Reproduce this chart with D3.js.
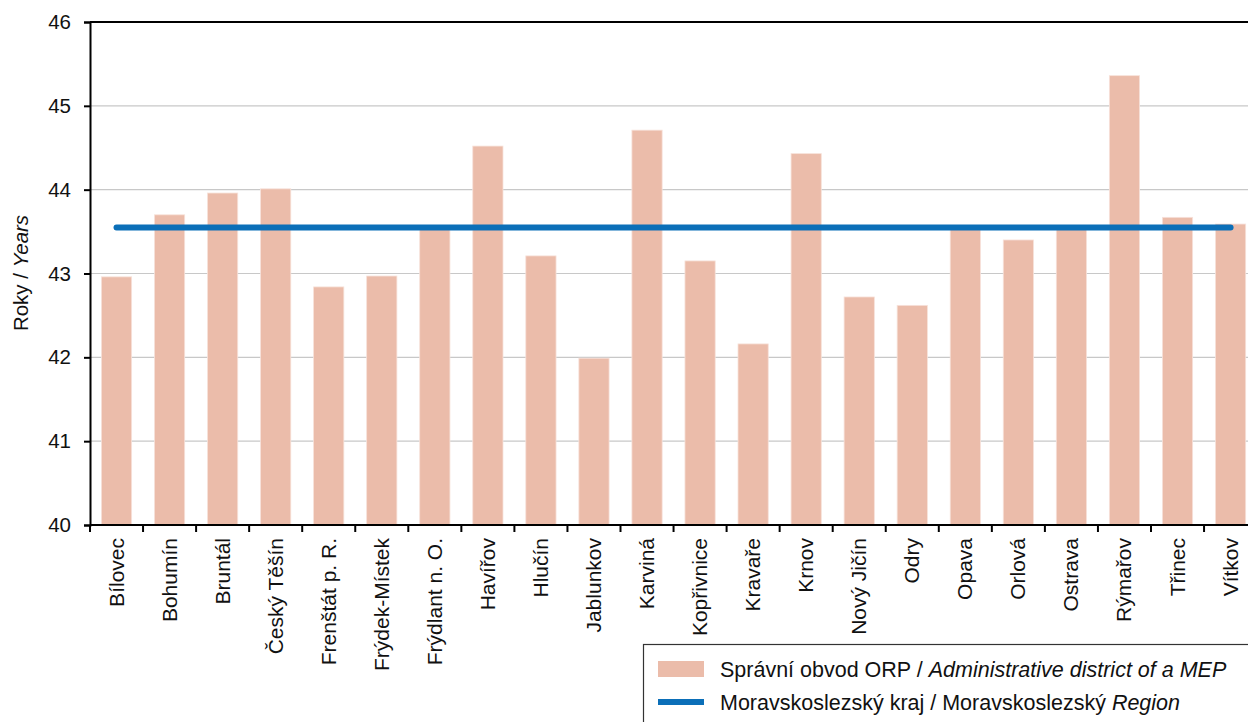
<!DOCTYPE html>
<html>
<head>
<meta charset="utf-8">
<script src="https://cdn.jsdelivr.net/npm/d3@7"></script>
<style>
  body { margin: 0; background: #fff; }
  svg { display: block; font-family: "Liberation Sans", Arial, sans-serif; }
</style>
</head>
<body>
<svg id="chart" width="1248" height="722"></svg>
<script>
// districts (ORP) and mean age
const districts = ['Bílovec', 'Bohumín', 'Bruntál', 'Český Těšín', 'Frenštát p. R.', 'Frýdek-Místek',
    'Frýdlant n. O.', 'Havířov', 'Hlučín', 'Jablunkov', 'Karviná', 'Kopřivnice', 'Kravaře', 'Krnov',
    'Nový Jičín', 'Odry', 'Opava', 'Orlová', 'Ostrava', 'Rýmařov', 'Třinec', 'Vítkov'];
const ages = [42.96, 43.70, 43.96, 44.01, 42.84, 42.97, 43.53, 44.52, 43.21, 41.99, 44.71, 43.15,
    42.16, 44.43, 42.72, 42.62, 43.55, 43.40, 43.55, 45.36, 43.67, 43.59];
const regionAvg = 43.55;
const yTicks = [40, 41, 42, 43, 44, 45, 46];
const legendLabels = ['Správní obvod ORP / ', 'Administrative district of a MEP',
    'Moravskoslezský kraj / Moravskoslezský ', 'Region'];

const svg = d3.select('#chart');
const mLeft = 90, mTop = 22, mBottom = 525, mRight = 90 + 22 * 53.05;

const x = d3.scaleBand()
    .domain(districts)
    .range([mLeft, mRight])
    .paddingInner(0.43)
    .paddingOuter(0.215);
const band = d3.scaleBand().domain(districts).range([mLeft, mRight]);
const y = d3.scaleLinear().domain([40, 46]).range([mBottom, mTop]);

// gridlines
svg.append('g')
    .selectAll('line')
    .data(yTicks.slice(1, -1))
    .enter()
    .append('line')
    .attr('x1', mLeft).attr('x2', 1248)
    .attr('y1', d => y(d)).attr('y2', d => y(d))
    .style('stroke', '#c8c8c8')
    .style('stroke-width', 1.2);

// bars
svg.append('g')
    .selectAll('rect')
    .data(ages)
    .enter()
    .append('rect')
    .attr('x', (d, i) => x(districts[i]))
    .attr('width', x.bandwidth())
    .attr('y', d => y(d))
    .attr('height', d => y(40) - y(d))
    .style('fill', '#ebbcaa')
    .style('stroke', '#f7e2da')
    .style('stroke-width', 0.8);

// region line
const lineData = districts.map(d => [band(d) + band.bandwidth() / 2, regionAvg]);
svg.append('path')
    .datum(lineData)
    .attr('d', d3.line().x(d => d[0]).y(d => y(d[1])))
    .style('fill', 'none')
    .style('stroke', '#0b6fb8')
    .style('stroke-width', 6)
    .style('stroke-linecap', 'round');

// top frame line
svg.append('line')
    .attr('x1', mLeft).attr('x2', 1248)
    .attr('y1', mTop).attr('y2', mTop)
    .style('stroke', '#000')
    .style('stroke-width', 2);

// y axis
const yAxis = svg.append('g')
    .attr('transform', `translate(${mLeft},0)`)
    .call(d3.axisLeft(y).tickValues(yTicks).tickFormat(d3.format('d')).tickSizeOuter(0).tickSize(6).tickPadding(13));
yAxis.select('.domain').style('stroke', '#000').style('stroke-width', 2);
yAxis.selectAll('.tick line').style('stroke', '#000').style('stroke-width', 2);
yAxis.selectAll('text')
    .style('font-size', '20.5px')
    .style('fill', '#111')
    .style('font-family', '"Liberation Sans", Arial, sans-serif');

// x axis: ticks at band boundaries
const xg = svg.append('g');
xg.append('line')
    .attr('x1', mLeft).attr('x2', 1248)
    .attr('y1', mBottom).attr('y2', mBottom)
    .style('stroke', '#000').style('stroke-width', 2);
xg.selectAll('.tk')
    .data(districts)
    .enter()
    .append('line')
    .attr('class', 'tk')
    .attr('x1', d => band(d)).attr('x2', d => band(d))
    .attr('y1', mBottom).attr('y2', mBottom + 7)
    .style('stroke', '#000').style('stroke-width', 2);
xg.selectAll('text')
    .data(districts)
    .enter()
    .append('text')
    .attr('transform', d => `translate(${band(d) + band.bandwidth() / 2 + 7},538) rotate(-90)`)
    .attr('text-anchor', 'end')
    .style('font-size', '21px')
    .style('fill', '#111')
    .text(d => d);

// y axis title
svg.append('text')
    .attr('transform', 'translate(28,273) rotate(-90)')
    .attr('text-anchor', 'middle')
    .style('font-size', '20.5px')
    .style('fill', '#111')
    .call(t => {
        t.append('tspan').text('Roky / ');
        t.append('tspan').style('font-style', 'italic').text('Years');
    });

// legend
const lg = svg.append('g');
lg.append('rect')
    .attr('x', 643.5).attr('y', 644.5)
    .attr('width', 620).attr('height', 100)
    .style('fill', '#fff')
    .style('stroke', '#333')
    .style('stroke-width', 1.2);
lg.append('rect')
    .attr('x', 658).attr('y', 661)
    .attr('width', 46).attr('height', 16)
    .style('fill', '#ebbcaa');
lg.append('line')
    .attr('x1', 658).attr('x2', 704)
    .attr('y1', 702).attr('y2', 702)
    .style('stroke', '#0b6fb8')
    .style('stroke-width', 6);
const l1 = lg.append('text').attr('x', 720).attr('y', 677).style('font-size', '21.5px').style('fill', '#111');
l1.append('tspan').text(legendLabels[0]);
l1.append('tspan').style('font-style', 'italic').text(legendLabels[1]);
const l2 = lg.append('text').attr('x', 720).attr('y', 710).style('font-size', '21.5px').style('fill', '#111');
l2.append('tspan').text(legendLabels[2]);
l2.append('tspan').style('font-style', 'italic').text(legendLabels[3]);
</script>
</body>
</html>
